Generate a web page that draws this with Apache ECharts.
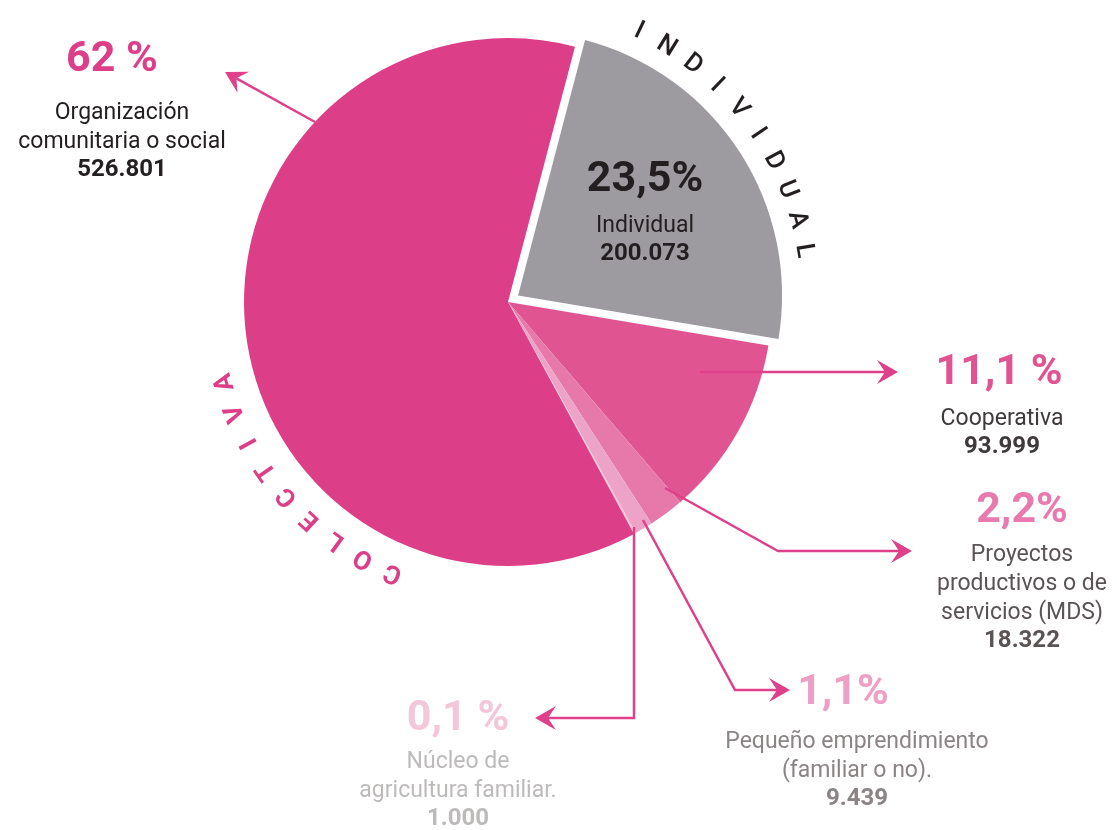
<!DOCTYPE html>
<html>
<head>
<meta charset="utf-8">
<style>
  html, body { margin: 0; padding: 0; background: #fff; }
  #chart { width: 1117px; height: 830px; }
</style>
<script src="https://cdn.jsdelivr.net/npm/echarts@6/dist/echarts.min.js"></script>
</head>
<body>
<div id="chart"></div>
<script>
// datos (en orden horario, empezando por Individual)
var categories = ['Individual', 'Cooperativa', 'Proyectos productivos o de servicios (MDS)',
  'Pequeño emprendimiento (familiar o no).', 'Núcleo de agricultura familiar.', 'Organización comunitaria o social'];
var values = [200073, 93999, 18322, 9439, 1000, 526801];
var percentLabels = ['23,5%', '11,1 %', '2,2%', '1,1%', '0,1 %', '62 %'];
var nameLines = [
  ['Individual'],
  ['Cooperativa'],
  ['Proyectos', 'productivos o de', 'servicios (MDS)'],
  ['Pequeño emprendimiento', '(familiar o no).'],
  ['Núcleo de', 'agricultura familiar.'],
  ['Organización', 'comunitaria o social']
];
var groupTitles = ['INDIVIDUAL', 'COLECTIVA'];

var sliceColors = ['#9D9BA0', '#E05492', '#E779AA', '#EDA3C7', '#F4C7DB', '#DC3F87'];
var pctColors = ['#231F20', '#E05492', '#E87AAE', '#EDA0C4', '#F4C6DA', '#DC3F87'];
var textColors = ['#231F20', '#3E3A3B', '#5A5455', '#8A8485', '#BDBABA', '#231F20'];
var arrowColor = '#DE4189';
var FONT = 'Roboto, "Noto Sans", sans-serif';

// posicion de cada bloque de texto: x centro, y del porcentaje, y de la primera linea
var labelPos = [
  { x: 645, px: 645, py: 180, ny: 226 },
  { x: 1002, px: 999, py: 373, ny: 419 },
  { x: 1022, px: 1022, py: 511, ny: 555 },
  { x: 857, px: 843, py: 693, ny: 742 },
  { x: 458, px: 458, py: 719, ny: 762 },
  { x: 122, px: 112, py: 60, ny: 113 }
];
var lineH = 29;

// flechas (el ultimo punto es la punta)
var arrows = [
  [[315, 122], [225, 72]],
  [[700, 372], [898, 372]],
  [[665, 488], [778, 551], [912, 551]],
  [[643, 520], [735, 690], [790, 690]],
  [[634, 527], [634, 718], [535, 718]]
];

function fmt(v) {
  return String(v).replace(/\B(?=(\d{3})+(?!\d))/g, '.');
}

var graphics = [];

// textos de cada categoria
categories.forEach(function (c, i) {
  var p = labelPos[i];
  graphics.push({
    type: 'text', x: p.px, y: p.py, silent: true, z: 100,
    style: { text: percentLabels[i], font: 'bold 43px ' + FONT, fill: pctColors[i],
      textAlign: 'center', textVerticalAlign: 'middle' }
  });
  nameLines[i].forEach(function (t, k) {
    graphics.push({
      type: 'text', x: p.x, y: p.ny + k * lineH, silent: true, z: 100,
      style: { text: t, font: '23px ' + FONT, fill: textColors[i],
        textAlign: 'center', textVerticalAlign: 'middle' }
    });
  });
  graphics.push({
    type: 'text', x: p.x, y: p.ny + nameLines[i].length * lineH - 1, silent: true, z: 100,
    style: { text: fmt(values[i]), font: 'bold 24px ' + FONT, fill: textColors[i],
      textAlign: 'center', textVerticalAlign: 'middle' }
  });
});

// flechas
arrows.forEach(function (pts) {
  var n = pts.length;
  var tip = pts[n - 1], prev = pts[n - 2];
  var a = Math.atan2(tip[1] - prev[1], tip[0] - prev[0]);
  var L = 21, W = 12, N = 13;
  function pt(d, s) {
    return [tip[0] - d * Math.cos(a) - s * Math.sin(a), tip[1] - d * Math.sin(a) + s * Math.cos(a)];
  }
  var linePts = pts.slice(0, n - 1).concat([pt(N, 0)]);
  graphics.push({
    type: 'polyline', silent: true, z: 100,
    shape: { points: linePts },
    style: { stroke: arrowColor, lineWidth: 2.5, fill: null }
  });
  graphics.push({
    type: 'polygon', silent: true, z: 100,
    shape: { points: [tip, pt(L, -W), pt(N, 0), pt(L, W)] },
    style: { fill: arrowColor }
  });
});

// textos curvos
function arcText(str, cx, cy, r, startDeg, stepDeg, color, weight) {
  str.split('').forEach(function (ch, i) {
    var th = (startDeg + i * stepDeg) * Math.PI / 180;
    graphics.push({
      type: 'text', silent: true, z: 100,
      x: cx + r * Math.sin(th), y: cy - r * Math.cos(th),
      rotation: -th,
      style: { text: ch, font: weight + ' 26px ' + FONT, fill: color,
        textAlign: 'center', textVerticalAlign: 'middle' }
    });
  });
}
arcText(groupTitles[0], 510, 300, 298, 25.6, 6.1, '#231F20', '500');
arcText(groupTitles[1], 508, 302, 294, 203, 6.4, '#DC3F87', 'bold');

var chart = echarts.init(document.getElementById('chart'));
chart.setOption({
  animation: false,
  backgroundColor: '#fff',
  series: [{
    type: 'pie',
    center: [508, 302],
    radius: 264,
    startAngle: 75.3,
    clockwise: true,
    silent: true,
    selectedMode: 'single',
    selectedOffset: 12,
    label: { show: false },
    labelLine: { show: false },
    emphasis: { disabled: true },
    itemStyle: { borderWidth: 0 },
    data: categories.map(function (c, i) {
      return { name: c, value: values[i], selected: i === 0, itemStyle: { color: sliceColors[i] } };
    })
  }],
  graphic: graphics
});
</script>
</body>
</html>
